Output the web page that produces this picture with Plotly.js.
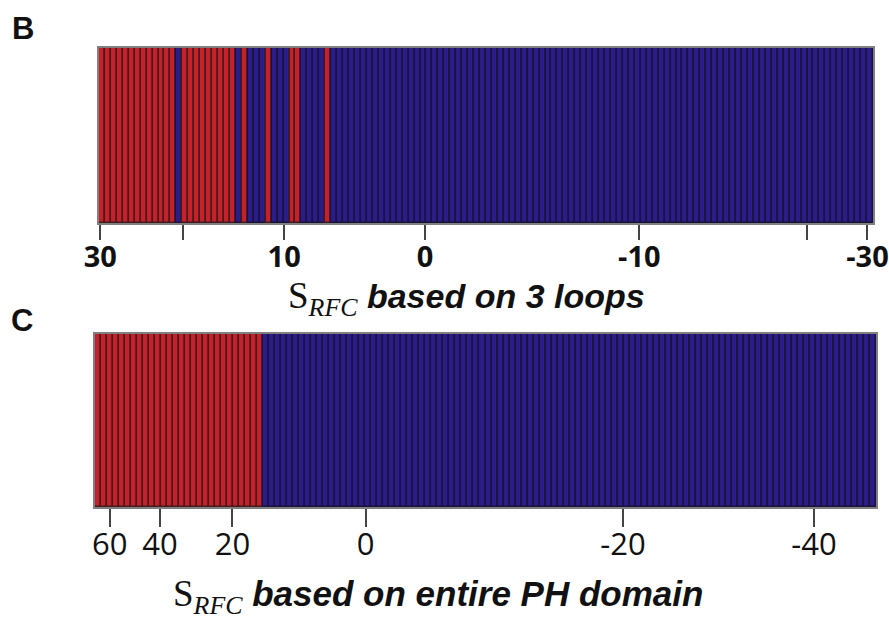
<!DOCTYPE html>
<html>
<head>
<meta charset="utf-8">
<script src="https://cdn.plot.ly/plotly-3.0.1.min.js"></script>
<style>html,body{margin:0;padding:0;background:#fff;}#chart{width:889px;height:620px;}</style>
</head>
<body>
<div id="chart"></div>
<script>
// S_RFC scores (sorted, descending) for each protein, panel B: based on 3 loops
const loopScores = [
  29.8, 29.1, 28.6, 27.9, 27.0, 26.4, 25.7, 24.9, 24.2, 23.5, 22.6, 21.9, 21.2, 20.4,
  19.8, 19.1, 18.5, 18.0, 17.3, 16.8, 16.2, 15.5, 15.0, 14.4, 13.9, 13.2, 12.7, 12.1, 11.5, 11.0, 10.3,
  9.8, 9.4, 9.0, 8.5, 8.1, 7.7, 7.3, 6.9, 6.5, 6.1, 5.7, 5.2, 4.8, 4.4, 4.0, 3.6, 3.2, 2.7, 2.3, 1.9, 1.5, 1.1, 0.6, 0.1,
  -0.3, -0.6, -0.8, -1.1, -1.4, -1.7, -1.9, -2.2, -2.5, -2.8, -3.0, -3.3, -3.6, -3.9, -4.1, -4.4, -4.7, -5.0,
  -5.2, -5.5, -5.8, -6.1, -6.3, -6.6, -6.9, -7.2, -7.4, -7.7, -8.0, -8.3, -8.5, -8.8, -9.1, -9.4, -9.6, -9.9,
  -10.3, -10.6, -11.0, -11.3, -11.7, -12.0, -12.4, -12.7, -13.1, -13.4, -13.8, -14.1, -14.5, -14.8,
  -15.2, -15.5, -15.9, -16.2, -16.6, -16.9, -17.3, -17.6, -18.0, -18.3, -18.7, -19.0, -19.4, -19.8,
  -20.3, -21.3, -22.3, -23.3, -24.3, -25.2, -26.2, -27.2, -28.2, -29.2, -30.6
];
// ranks (0-based) of the proteins drawn in red, panel B
const loopRedRanks = [0,1,2,3,4,5,6,7,8,9,10,11,12, 14,15,16,17,18,19,20,21,22, 24, 28, 32, 33, 38];

// S_RFC scores (sorted, descending), panel C: based on entire PH domain
const domainScores = [
  66.0, 63.1, 59.8,
  57.2, 54.8, 52.1, 49.7, 47.3, 44.6, 42.4, 40.3,
  39.3, 37.6, 35.8, 34.3, 32.5, 30.9, 29.1, 27.6, 25.8, 24.2, 22.5, 20.6,
  19.0, 18.2, 17.3, 16.5, 15.6, 14.6, 13.8, 12.9, 12.0, 11.2, 10.3, 9.4, 8.5, 7.7, 6.8, 5.9, 5.0, 4.1, 3.3, 2.4, 1.5, 0.5,
  -0.4, -0.8, -1.3, -1.7, -2.2, -2.7, -3.1, -3.6, -4.1, -4.5,
  -5.0, -5.4, -5.9, -6.4, -6.8, -7.3, -7.7, -8.2, -8.7, -9.1,
  -9.6, -10.1, -10.5, -11.0, -11.4, -11.9, -12.4, -12.8, -13.3, -13.7,
  -14.2, -14.7, -15.1, -15.6, -16.1, -16.5, -17.0, -17.4, -17.9, -18.4,
  -18.8, -19.3, -19.8,
  -20.3, -20.9, -21.5, -22.2, -22.8, -23.4, -24.1, -24.7, -25.3, -26.0,
  -26.6, -27.2, -27.9, -28.5, -29.1, -29.8, -30.4, -31.0, -31.7, -32.3,
  -32.9, -33.6, -34.2, -34.8, -35.5, -36.1, -36.7, -37.4, -38.0, -38.6,
  -39.2, -39.9,
  -40.5, -41.1, -41.7, -42.2, -42.8, -43.4, -44.0, -44.6, -45.2, -45.9
];
const domainRedRanks = [0,1,2,3,4,5,6,7,8,9,10,11,12,13,14,15,16,17,18,19,20,21,22,23,24,25,26,27];

// tick values and labels
const loopTickValues = [30, 20, 10, 0, -10, -20, -30];
const loopTickLabels = ['30', '', '10', '0', '-10', '', '-30'];
const domainTickValues = [60, 40, 20, 0, -20, -40];
const domainTickLabels = ['60', '40', '20', '0', '-20', '-40'];

const RED = '#c4212b', BLUE = '#2b1c8a';
const RED_EDGE = '#461a1c', BLUE_EDGE = '#18133a';

// position (in rank units) where the sorted score list crosses value v
function crossing(scores, v) {
  for (let i = 0; i < scores.length - 1; i++) {
    if (scores[i] >= v && scores[i + 1] < v) {
      return i + (scores[i] - v) / (scores[i] - scores[i + 1]);
    }
  }
  if (v > scores[0]) {
    return 0 - (v - scores[0]) / (scores[0] - scores[1]);
  }
  const n = scores.length;
  return (n - 1) + (scores[n - 1] - v) / (scores[n - 2] - scores[n - 1]);
}

function stripeTrace(scores, redRanks, xa, ya) {
  const xs = scores.map((s, i) => i);
  const isRed = scores.map((s, i) => redRanks.includes(i));
  return {
    type: 'bar',
    x: xs,
    y: scores.map(() => 1),
    customdata: scores,
    xaxis: xa, yaxis: ya,
    width: 1,
    marker: {
      color: isRed.map(r => r ? RED : BLUE),
      line: { color: isRed.map(r => r ? RED_EDGE : BLUE_EDGE), width: 1.5 }
    },
    hovertemplate: 'rank %{x}<br>S<sub>RFC</sub> = %{customdata}<extra></extra>',
    showlegend: false
  };
}

const data = [
  stripeTrace(loopScores, loopRedRanks, 'x', 'y'),
  stripeTrace(domainScores, domainRedRanks, 'x2', 'y2')
];

const axisBase = {
  showgrid: false, zeroline: false,
  showline: true, mirror: true, linecolor: '#808080', linewidth: 1.5,
  ticks: 'outside', tickcolor: '#444', tickwidth: 2,
  fixedrange: true
};

const titleB = "<span style=\"font-family:'Liberation Serif',serif;font-size:37px;\">S<sub><i>RFC</i></sub></span> <b><i>based on 3 loops</i></b>";
const titleC = "<span style=\"font-family:'Liberation Serif',serif;font-size:37px;\">S<sub><i>RFC</i></sub></span> <b><i>based on entire PH domain</i></b>";

const layout = {
  width: 889, height: 620,
  margin: { l: 0, r: 0, t: 0, b: 0 },
  paper_bgcolor: '#fff', plot_bgcolor: '#fff',
  bargap: 0,
  xaxis: Object.assign({}, axisBase, {
    domain: [99 / 889, 873 / 889], anchor: 'y',
    range: [-0.5, loopScores.length - 0.5],
    tickmode: 'array',
    tickvals: loopTickValues.map(v => crossing(loopScores, v)),
    ticktext: loopTickLabels,
    ticklen: 15,
    ticklabelstandoff: -8,
    tickfont: { family: 'Open Sans', size: 29, color: '#111', weight: 700 }
  }),
  yaxis: Object.assign({}, axisBase, {
    domain: [1 - 223 / 620, 1 - 48 / 620], anchor: 'x',
    range: [0, 1], ticks: '', showticklabels: false
  }),
  xaxis2: Object.assign({}, axisBase, {
    domain: [95 / 889, 876 / 889], anchor: 'y2',
    range: [-0.5, domainScores.length - 0.5],
    tickmode: 'array',
    tickvals: domainTickValues.map(v => crossing(domainScores, v)),
    ticktext: domainTickLabels,
    ticklen: 18,
    ticklabelstandoff: -9,
    tickfont: { family: 'Open Sans', size: 31, color: '#111' }
  }),
  yaxis2: Object.assign({}, axisBase, {
    domain: [1 - 507 / 620, 1 - 334 / 620], anchor: 'x2',
    range: [0, 1], ticks: '', showticklabels: false
  }),
  annotations: [
    { text: '<b>B</b>', xref: 'paper', yref: 'paper', x: 23 / 889, y: 1 - 28 / 620,
      xanchor: 'center', yanchor: 'middle', showarrow: false,
      font: { family: 'Liberation Sans', size: 31, color: '#111' } },
    { text: '<b>C</b>', xref: 'paper', yref: 'paper', x: 22 / 889, y: 1 - 320 / 620,
      xanchor: 'center', yanchor: 'middle', showarrow: false,
      font: { family: 'Liberation Sans', size: 31, color: '#111' } },
    { text: titleB, xref: 'paper', yref: 'paper', x: 466 / 889, y: 1 - 299 / 620,
      xanchor: 'center', yanchor: 'middle', showarrow: false,
      font: { family: 'Liberation Sans', size: 34, color: '#111' } },
    { text: titleC, xref: 'paper', yref: 'paper', x: 438 / 889, y: 1 - 596 / 620,
      xanchor: 'center', yanchor: 'middle', showarrow: false,
      font: { family: 'Liberation Sans', size: 35, color: '#111' } }
  ]
};

Plotly.newPlot('chart', data, layout, { displayModeBar: false, staticPlot: false });
</script>
</body>
</html>
